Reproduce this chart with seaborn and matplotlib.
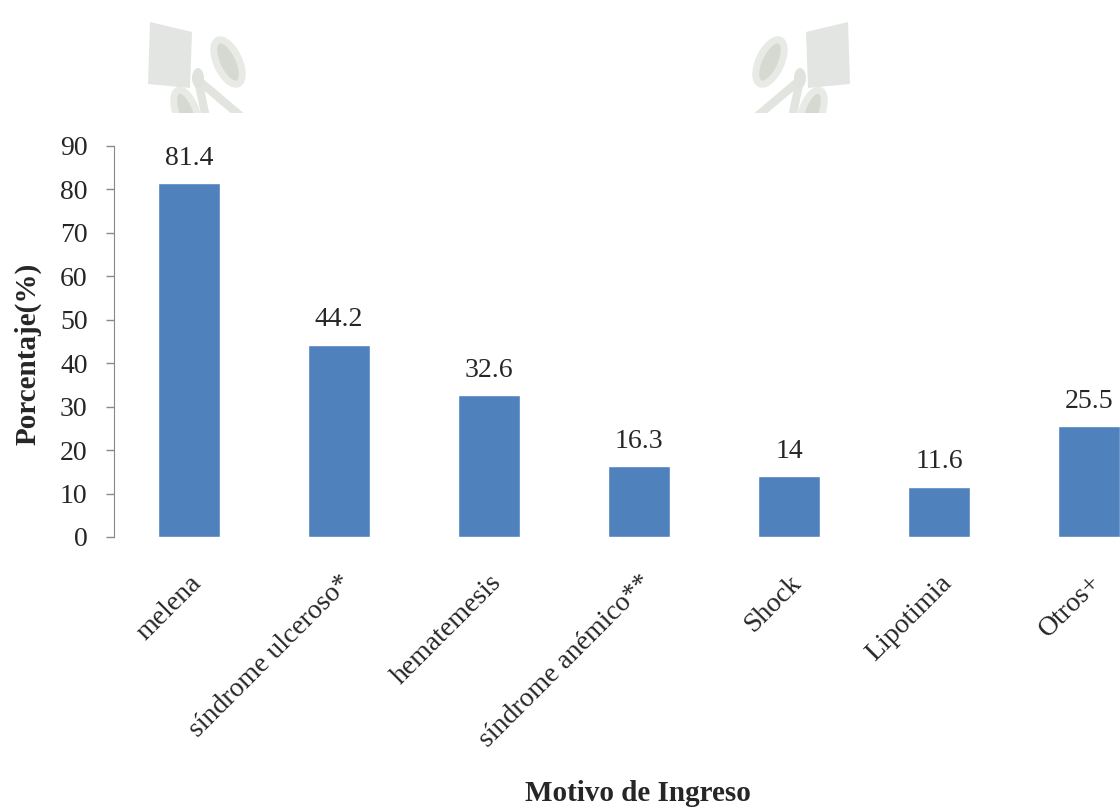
import pandas as pd
import matplotlib
matplotlib.use("Agg")
import matplotlib.pyplot as plt
import matplotlib.patches as mpatches
import matplotlib.transforms as mtransforms
import seaborn as sns

# datos del gráfico
motivos = ["melena", "síndrome ulceroso*", "hematemesis", "síndrome anémico**",
           "Shock", "Lipotimia", "Otros+"]
porcentajes = [81.4, 44.2, 32.6, 16.3, 14, 11.6, 25.5]
etiquetas = ["81.4", "44.2", "32.6", "16.3", "14", "11.6", "25.5"]
y_ticks = [0, 10, 20, 30, 40, 50, 60, 70, 80, 90]

sns.set_style("white")
plt.rcParams["font.family"] = ["Liberation Serif", "DejaVu Serif"]

df = pd.DataFrame({"motivo": motivos, "porcentaje": porcentajes})

W, H = 1120, 809
fig = plt.figure(figsize=(W / 100, H / 100), dpi=100)
ax = fig.add_axes([114 / W, (H - 537) / H, 1050 / W, 391 / H])

sns.barplot(data=df, x="motivo", y="porcentaje", color="#4F81BD",
            saturation=1, width=0.41, ax=ax)

for i, (v, t) in enumerate(zip(porcentajes, etiquetas)):
    ax.annotate(t, (i, v), xytext=(0, 9), textcoords="offset points",
                ha="center", va="bottom", fontsize=20)

ax.set_xlim(-0.5, 6.5)
ax.set_ylim(0, 90)
ax.set_yticks(y_ticks)
ax.tick_params(axis="y", labelsize=20, length=6, width=1, color="#888888",
               direction="out", left=True, pad=13)
ax.tick_params(axis="x", length=0, pad=24)
ax.set_xticks(range(len(motivos)))
ax.set_xticklabels(motivos, rotation=45, ha="right", rotation_mode="anchor",
                   fontsize=20)

sns.despine(ax=ax, top=True, right=True, bottom=True)
ax.spines["left"].set_color("#888888")

ax.set_xlabel("")
ax.set_ylabel("Porcentaje(%)", fontsize=21, fontweight="bold")
ax.yaxis.set_label_coords((42 - 114) / 1050, (537 - 354) / 391)
fig.text(638 / W, (H - 801) / H, "Motivo de Ingreso", ha="center",
         va="baseline", fontsize=21, fontweight="bold")

# marca de agua (logo difuminado arriba), en píxeles de la imagen
px = mtransforms.Affine2D().scale(1, -1).translate(0, H) + mtransforms.IdentityTransform()
clip = mpatches.Rectangle((0, 0), W, 113, transform=px)


def logo(x0, s):
    piezas = [
        mpatches.Polygon([(x0 + s * 2, 22), (x0 + s * 44, 32), (x0 + s * 42, 88),
                          (x0, 84)], closed=True, facecolor="#e3e5e2", edgecolor="none"),
        mpatches.Ellipse((x0 + s * 80, 62), 22, 48, angle=s * -25,
                         facecolor="#d6d9d1", edgecolor="#e8eae6", lw=5),
        mpatches.Ellipse((x0 + s * 50, 78), 12, 20, facecolor="#e0e2de", edgecolor="none"),
        mpatches.Ellipse((x0 + s * 38, 112), 20, 46, angle=s * -20,
                         facecolor="#d6d9d1", edgecolor="#e8eae6", lw=5),
    ]
    for p in piezas:
        p.set_transform(px)
        p.set_zorder(0)
        p.set_clip_path(clip)
        fig.patches.append(p)
    for (xa, ya), (xb, yb) in [((50, 80), (95, 118)), ((50, 80), (58, 118))]:
        ln = plt.Line2D([x0 + s * xa, x0 + s * xb], [ya, yb], transform=px,
                        color="#e2e4e0", lw=6, zorder=0)
        ln.set_clip_path(clip)
        fig.lines.append(ln)


logo(148, 1)
logo(850, -1)

fig.savefig("out.png", dpi=100)
